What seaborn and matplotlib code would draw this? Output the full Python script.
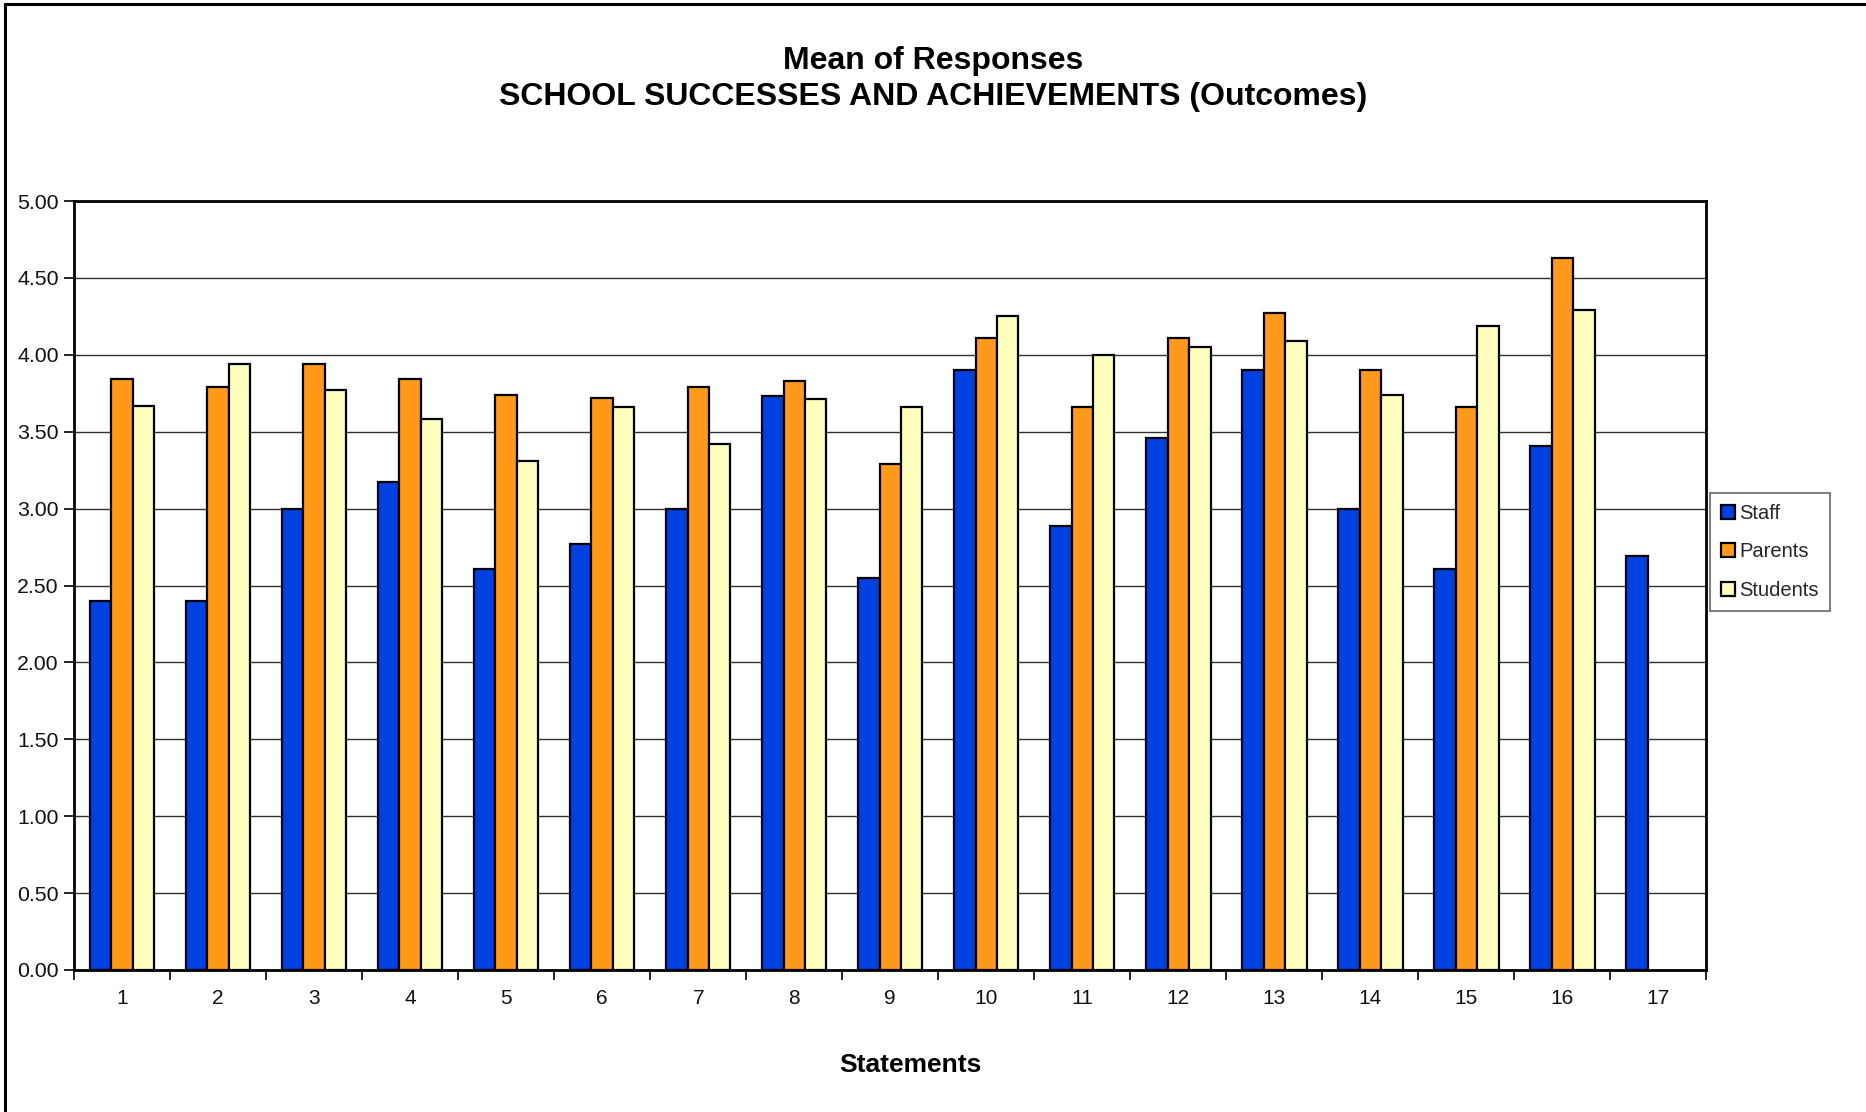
import numpy as np
import pandas as pd
import matplotlib
matplotlib.use("Agg")
import matplotlib.pyplot as plt
from matplotlib.ticker import FixedLocator, MultipleLocator, FormatStrFormatter
from matplotlib.lines import Line2D
import seaborn as sns

# Mean response per statement for each respondent group
statements = [str(i) for i in range(1, 18)]
staff = [2.40, 2.40, 3.00, 3.17, 2.61, 2.77, 3.00, 3.73, 2.55, 3.90, 2.89, 3.46, 3.90, 3.00, 2.61, 3.41, 2.69]
parents = [3.84, 3.79, 3.94, 3.84, 3.74, 3.72, 3.79, 3.83, 3.29, 4.11, 3.66, 4.11, 4.27, 3.90, 3.66, 4.63, np.nan]
students = [3.67, 3.94, 3.77, 3.58, 3.31, 3.66, 3.42, 3.71, 3.66, 4.25, 4.00, 4.05, 4.09, 3.74, 4.19, 4.29, np.nan]
groups = ["Staff", "Parents", "Students"]
colors = ["#0040E0", "#FF9A1A", "#FFFFC0"]

df = pd.DataFrame({
    "Statement": statements * 3,
    "Group": np.repeat(groups, len(statements)),
    "Mean": staff + parents + students,
})

sns.set_theme(style="white")
plt.rcParams["font.family"] = ["Liberation Sans", "DejaVu Sans"]

fig = plt.figure(figsize=(18.66, 11.12), dpi=100)
ax = fig.add_axes([0.0397, 0.1277, 0.8748, 0.6915])

sns.barplot(data=df, x="Statement", y="Mean", hue="Group", order=statements,
            hue_order=groups, palette=colors, width=0.67, ax=ax,
            edgecolor="black", linewidth=1.6, saturation=1, legend=True,
            errorbar=None, zorder=3)

ax.set_ylim(0, 5)
ax.set_xlim(-0.5, len(statements) - 0.5)
ax.yaxis.set_major_locator(MultipleLocator(0.5))
ax.yaxis.set_major_formatter(FormatStrFormatter("%.2f"))
ax.grid(axis="y", color="#303030", linewidth=1.0, zorder=0)
ax.set_axisbelow(True)

# Tick marks sit between statements; labels sit under each group
ax.xaxis.set_major_locator(FixedLocator(np.arange(-0.5, len(statements), 1.0)))
ax.xaxis.set_minor_locator(FixedLocator(np.arange(len(statements))))
ax.set_xticklabels([])
ax.set_xticklabels(statements, minor=True)
ax.tick_params(axis="x", which="major", direction="out", length=7, width=1.2,
               color="black", bottom=True)
ax.tick_params(axis="x", which="minor", length=0, pad=14, labelsize=15,
               labelcolor="#111111", bottom=True)
ax.tick_params(axis="y", direction="out", length=7, width=1.2, color="black",
               left=True, labelsize=15.3, labelcolor="#111111", pad=4)

for side in ["left", "right", "top", "bottom"]:
    ax.spines[side].set_visible(True)
    ax.spines[side].set_color("black")
    ax.spines[side].set_linewidth(2.0)

ax.set_xlabel("")
ax.set_ylabel("")

handles, labels = ax.get_legend_handles_labels()
ax.legend_.remove()
leg = fig.legend(handles, labels, loc="center left", bbox_to_anchor=(0.9164, 0.5036),
                 frameon=True, fancybox=False, shadow=False, fontsize=14.5,
                 handlelength=0.7, handleheight=0.7, handletextpad=0.2,
                 labelspacing=0.95, borderpad=0.55, borderaxespad=0)
leg.get_frame().set_edgecolor("#404040")
leg.get_frame().set_linewidth(1.2)

fig.text(0.5003, 0.929, "Mean of Responses\nSCHOOL SUCCESSES AND ACHIEVEMENTS (Outcomes)",
         ha="center", va="center", fontsize=23, fontweight="bold",
         linespacing=1.25, color="black")
fig.text(0.488, 0.042, "Statements", ha="center", va="center",
         fontsize=19, fontweight="bold", color="black")

# Chart border along the top and left edges
fig.lines.append(Line2D([0.0025, 1.0], [0.9968, 0.9968], transform=fig.transFigure,
                        color="black", linewidth=2.2))
fig.lines.append(Line2D([0.0025, 0.0025], [0.0, 0.9968], transform=fig.transFigure,
                        color="black", linewidth=2.2))

fig.savefig("out.png", dpi=100)
